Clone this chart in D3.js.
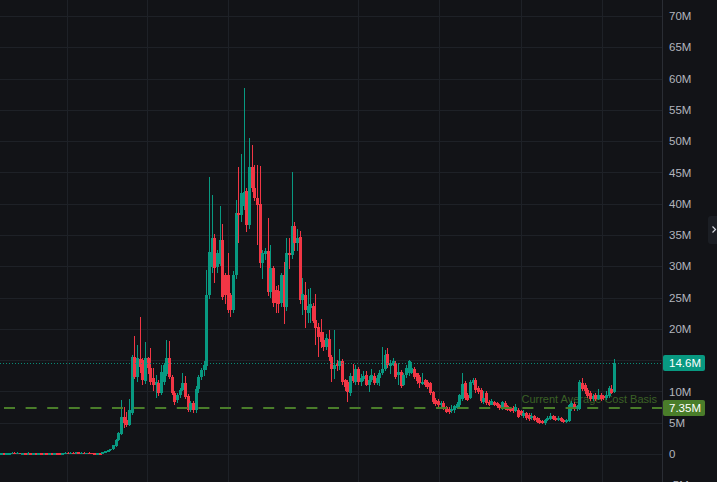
<!DOCTYPE html>
<html><head><meta charset="utf-8">
<script src="https://cdn.jsdelivr.net/npm/d3@7"></script>
<style>html,body{margin:0;padding:0;background:#121317;overflow:hidden}</style>
</head><body><svg id="c" width="717" height="482"></svg>
<script>
// ---- DATA (values in millions) ----
const opens=[
0.10,0.12,0.09,0.11,0.13,0.20,0.12,0.18,0.10,0.12,
0.08,0.14,0.09,0.11,0.08,0.10,0.07,0.10,0.08,0.11,
0.09,0.14,0.10,0.08,0.11,0.22,0.19,0.23,0.20,0.24,
0.19,0.22,0.18,0.21,0.17,0.15,0.06,0.09,
0.08,0.30,0.45,0.60,0.80,1.30,2.20,3.20,5.90,5.40,
4.6,6.6,15.5,12.3,15.2,15.0,11.6,15.3,13.7,12.1,
11.0,11.3,9.7,11.5,12.8,15.3,12.3,9.7,8.6,9.4,
10.2,11.3,9.2,7.0,8.1,7.0,10.4,12.3,13.4,14.0,
25.4,29.9,34.5,29.9,30.4,34.2,28.6,28.6,25.4,23.0,
28.6,38.5,38.2,39.6,42.0,36.6,45.9,42.5,40.9,40.0,
30.5,31.9,32.4,25.9,29.7,26.2,26.1,24.1,28.6,23.5,
32.1,31.8,36.4,33.7,34.7,24.6,25.4,22.5,23.3,23.7,
21.4,20.3,19.5,18.2,17.1,18.4,15.5,13.6,14.6,14.0,
14.9,11.8,11.5,9.7,12.5,11.5,13.6,11.5,12.0,12.6,
11.0,11.9,12.5,11.4,12.1,13.0,13.6,16.0,14.0,14.3,
14.5,12.6,13.1,11.0,12.6,12.9,13.0,13.6,12.9,12.3,
11.2,11.8,11.5,11.3,9.9,8.6,8.5,7.8,8.2,7.5,
7.2,6.8,7.0,7.4,7.8,8.8,11.3,9.4,9.0,11.3,
11.8,10.6,10.2,8.3,9.7,8.3,7.9,8.3,8.1,7.8,
7.3,8.1,7.6,7.3,7.3,6.9,7.0,6.8,6.0,6.5,
6.2,5.7,6.0,5.7,5.5,5.3,4.9,5.4,5.6,6.1,
5.8,5.4,5.7,5.4,5.1,5.3,7.2,8.0,7.2,7.2,
11.3,11.0,10.2,9.8,8.8,9.4,8.8,9.5,9.2,8.9,
9.2,10.4,9.9];
const highs=[
0.14,0.15,0.13,0.16,0.32,0.25,0.30,0.20,0.14,0.15,
0.32,0.16,0.13,0.14,0.12,0.13,0.12,0.14,0.13,0.15,
0.20,0.16,0.13,0.12,0.26,0.27,0.25,0.28,0.26,0.27,
0.24,0.28,0.23,0.25,0.22,0.16,0.12,0.22,
0.35,0.50,0.65,0.85,1.50,2.40,3.50,8.60,7.50,6.70,
8.8,15.8,18.9,17.4,21.9,15.4,17.9,15.5,16.9,13.7,
12.6,11.8,14.2,14.6,18.2,18.0,12.6,10.0,9.8,10.6,
12.9,12.5,9.6,8.4,8.4,10.8,12.6,13.8,14.8,29.4,
44.3,41.4,35.2,32.6,39.6,36.8,29.0,32.1,25.8,29.2,
40.6,45.8,47.9,58.5,42.5,50.5,49.4,46.2,46.2,46.0,
32.6,33.0,37.7,33.4,30.0,26.8,27.0,29.0,30.7,34.5,
34.5,45.1,37.0,36.0,35.6,28.2,27.5,26.4,26.5,24.1,
25.6,21.0,21.5,19.5,19.2,19.8,15.8,19.8,15.0,16.8,
15.2,12.0,11.8,12.9,14.4,14.3,13.9,12.8,13.3,13.2,
12.4,13.6,12.9,12.6,13.4,17.1,16.6,16.9,15.0,15.3,
14.8,14.5,13.4,13.0,14.2,15.1,14.7,13.9,13.0,12.6,
12.9,12.0,11.8,11.5,10.1,8.9,8.8,8.5,8.4,7.7,
7.5,7.8,7.9,8.3,9.6,12.9,11.6,9.8,11.8,12.2,
12.1,10.8,10.5,10.0,10.0,8.6,8.8,8.5,8.3,8.0,
8.5,8.4,7.8,7.5,7.6,8.0,7.3,7.1,7.0,6.7,
6.5,6.6,6.2,5.9,5.7,5.5,5.6,6.0,6.5,6.3,
6.0,6.1,5.9,5.6,5.6,8.0,8.5,8.3,7.9,11.9,
12.1,11.3,10.6,10.1,9.6,9.8,10.4,9.7,9.4,10.0,
10.9,11.0,15.2];
const lows=[
0.07,0.08,0.06,0.08,0.10,0.10,0.10,0.08,0.07,0.06,
0.07,0.06,0.05,0.07,0.05,0.06,0.05,0.07,0.06,0.08,
0.07,0.08,0.06,0.05,0.10,0.17,0.15,0.16,0.15,0.17,
0.15,0.17,0.14,0.16,0.12,0.03,0.03,0.05,
0.06,0.25,0.40,0.55,0.70,1.10,2.00,3.00,4.10,4.30,
4.4,6.2,12.0,11.5,13.0,11.0,11.2,12.8,11.0,10.0,
9.0,9.3,9.4,11.0,12.5,12.0,9.4,7.8,8.2,9.0,
10.0,8.8,6.7,6.7,6.5,6.6,9.8,11.8,12.5,13.5,
24.8,29.0,27.3,29.0,30.0,24.6,24.0,22.6,21.9,22.5,
28.0,33.7,37.0,39.0,35.5,36.0,41.8,40.5,33.4,29.8,
28.0,31.0,25.2,25.0,23.5,22.5,22.5,23.5,20.8,22.8,
29.5,31.2,32.4,32.5,24.0,22.2,20.1,21.0,21.0,21.0,
17.4,15.5,17.0,16.5,16.6,14.9,11.5,12.0,13.2,13.5,
11.0,10.0,8.3,9.3,11.3,11.0,11.0,10.8,11.7,10.8,
9.9,11.5,11.0,11.0,10.9,12.7,13.2,13.8,12.8,14.0,
12.0,11.0,10.5,10.8,12.2,12.5,12.8,12.0,11.2,10.6,
11.0,10.7,10.4,9.5,8.0,7.7,7.5,7.5,7.0,6.5,
6.4,6.5,6.6,7.2,7.5,8.4,8.7,8.4,8.8,11.0,
9.8,9.6,8.1,8.0,7.9,7.7,7.8,7.6,7.4,7.0,
7.1,7.0,6.8,6.7,6.6,6.7,5.7,6.0,5.8,5.4,
5.3,5.5,5.2,4.9,4.8,4.8,4.7,5.2,5.5,5.4,
5.3,5.2,5.1,4.9,5.0,5.1,6.8,6.9,6.9,7.0,
10.0,9.6,8.9,8.5,8.4,8.5,8.6,8.5,8.6,8.7,
9.0,9.6,9.7];
const closes=[
0.12,0.09,0.11,0.13,0.20,0.12,0.18,0.10,0.12,0.08,
0.14,0.09,0.11,0.08,0.10,0.07,0.10,0.08,0.11,0.09,
0.14,0.10,0.08,0.11,0.22,0.19,0.23,0.20,0.24,0.19,
0.22,0.18,0.21,0.17,0.15,0.06,0.09,0.06,
0.30,0.45,0.60,0.80,1.40,2.20,3.30,5.90,4.90,4.60,
7.0,15.5,12.3,15.3,13.9,11.8,15.3,13.7,11.5,11.0,
11.5,9.7,13.1,14.2,15.3,12.3,9.7,8.3,9.4,10.2,
11.3,9.1,7.0,8.1,7.0,10.4,12.3,13.4,14.2,25.4,
32.3,34.5,29.7,32.1,34.2,25.1,25.4,23.0,23.0,28.6,
38.5,38.2,41.7,41.9,36.6,45.9,42.5,40.9,39.8,30.5,
32.1,32.4,25.9,29.7,24.1,24.1,24.0,28.6,23.5,32.1,
31.8,36.4,33.7,34.5,24.6,25.6,23.0,23.6,24.0,21.3,
20.1,18.7,17.9,17.1,18.5,15.5,13.6,14.2,14.0,14.9,
11.5,10.7,9.9,12.5,11.7,13.6,11.5,12.2,12.5,11.0,
11.8,12.6,11.4,12.1,13.0,13.6,15.8,14.2,14.5,14.9,
12.3,13.1,10.8,12.6,13.7,14.9,13.7,12.3,11.6,11.4,
11.5,11.0,10.7,9.7,8.3,8.0,7.8,8.2,7.3,6.7,
6.7,7.2,7.7,8.0,9.4,11.2,9.0,8.7,11.5,11.8,
10.2,9.9,8.4,9.0,8.2,7.9,8.4,7.9,7.6,7.3,
8.3,7.3,7.0,6.9,6.8,7.5,5.9,6.3,6.6,5.7,
5.6,6.1,5.5,5.1,5.0,5.0,5.4,5.8,6.1,5.6,
5.5,5.8,5.3,5.1,5.4,7.8,8.1,7.2,7.6,11.5,
10.4,10.0,9.2,8.8,9.3,8.8,9.5,8.8,8.9,9.5,
10.5,9.8,14.6];
const yTicks=[-5,0,5,10,15,20,25,30,35,40,45,50,55,60,65,70];
const periodBreaks=[24.8,54.8,85.2,134.0,164.4,195.1,225.5]; // in bar-index units
const lastPrice=14.6, lastPriceLabel="14.6M";
const costBasis=7.35, costBasisLabel="7.35M", costBasisText="Current Average Cost Basis";

// ---- STYLE ----
const W=717,H=482, plotRight=662;
const bg="#121317", grid="#1e2127", up="#089981", down="#f23645", axisText="#b2b5be";
const basisColor="#4a7d2a", basisTextColor="#3b6126";
const font="'Liberation Sans', Arial, sans-serif";

const svg=d3.select("#c");
svg.append("rect").attr("width",W).attr("height",H).attr("fill",bg);

const N=Math.min(opens.length,highs.length,lows.length,closes.length);
const x=d3.scaleLinear().domain([0,N-1]).range([1,614]);
const y=d3.scaleLinear().domain([0,70]).range([454,16]);

const g=svg.append("g");
// gridlines
g.selectAll("line.h").data(yTicks).enter().append("line")
 .attr("x1",0).attr("x2",plotRight).attr("y1",d=>Math.round(y(d))+0.5).attr("y2",d=>Math.round(y(d))+0.5)
 .attr("stroke",grid).attr("stroke-width",1);
g.selectAll("line.v").data(periodBreaks).enter().append("line")
 .attr("x1",d=>Math.round(x(d))+0.5).attr("x2",d=>Math.round(x(d))+0.5).attr("y1",0).attr("y2",H)
 .attr("stroke",grid).attr("stroke-width",1);

// cost basis text (behind candles)
g.append("text").attr("x",657).attr("y",Math.round(y(costBasis))-5)
 .attr("text-anchor","end").attr("font-family",font).attr("font-size",11)
 .attr("fill",basisTextColor).text(costBasisText);

// candles
const idx=d3.range(N);
const cg=g.append("g").attr("shape-rendering","crispEdges");
cg.selectAll("rect.w").data(idx).enter().append("rect")
 .attr("x",i=>Math.round(x(i)))
 .attr("y",i=>y(highs[i]))
 .attr("width",1)
 .attr("height",i=>Math.max(1,y(lows[i])-y(highs[i])))
 .attr("fill",i=>closes[i]>=opens[i]?up:down);
cg.selectAll("rect.b").data(idx).enter().append("rect")
 .attr("x",i=>Math.round(x(i))-1)
 .attr("y",i=>y(Math.max(opens[i],closes[i])))
 .attr("width",3)
 .attr("height",i=>Math.max(1.5,Math.abs(y(opens[i])-y(closes[i]))))
 .attr("fill",i=>closes[i]>=opens[i]?up:down);

// cost basis dashed line
g.append("line").attr("x1",4).attr("x2",plotRight).attr("y1",Math.round(y(costBasis))).attr("y2",Math.round(y(costBasis)))
 .attr("stroke",basisColor).attr("stroke-width",2).attr("stroke-dasharray","11 10.6");
// last price dotted line
g.append("line").attr("x1",0).attr("x2",plotRight).attr("y1",Math.round(y(lastPrice))+0.5).attr("y2",Math.round(y(lastPrice))+0.5)
 .attr("stroke",up).attr("stroke-width",1).attr("stroke-dasharray","1 2").attr("opacity",0.9);

// right axis
svg.append("line").attr("x1",plotRight+0.5).attr("x2",plotRight+0.5).attr("y1",0).attr("y2",H).attr("stroke","#2a2d34");
const ax=svg.append("g");
const priceMarks=[lastPrice,costBasis];
// tick labels hidden where a price label box covers them (as in the reference)
const shownTicks=yTicks.filter(t=>priceMarks.every(p=>Math.abs(y(t)-y(p))>10));
ax.selectAll("text").data(shownTicks).enter().append("text")
 .attr("x",669).attr("y",d=>y(d)).attr("dy","0.36em")
 .attr("font-family",font).attr("font-size",11.5).attr("fill",axisText)
 .text(d=>d===0?"0":d+"M");

function priceLabel(v,label,color){
  const cy=y(v);
  ax.append("rect").attr("x",663).attr("y",Math.round(cy)-8).attr("width",42).attr("height",16).attr("rx",2).attr("fill",color);
  ax.append("text").attr("x",669).attr("y",cy).attr("dy","0.36em").attr("font-family",font).attr("font-size",11.5)
    .attr("fill","#ffffff").text(label);
}
priceLabel(lastPrice,lastPriceLabel,up);
priceLabel(costBasis,costBasisLabel,basisColor);

// right-edge scroll button
svg.append("rect").attr("x",708).attr("y",216).attr("width",12).attr("height",28).attr("rx",3).attr("fill","#1b1e24");
svg.append("path").attr("d","M712.5,226.5 L715.5,229.5 L712.5,232.5").attr("fill","none").attr("stroke","#d1d4dc").attr("stroke-width",1.2);
</script></body></html>
